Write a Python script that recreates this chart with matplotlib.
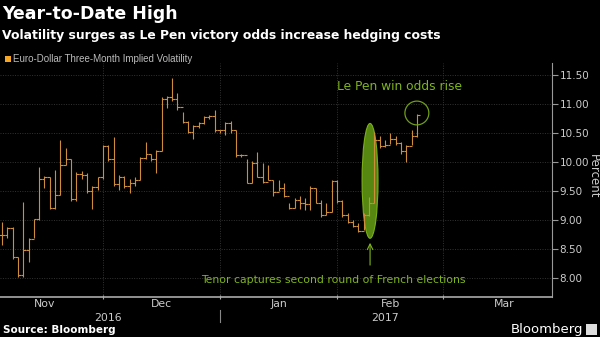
import matplotlib
matplotlib.use("Agg")
import matplotlib.pyplot as plt
import matplotlib.transforms as mtransforms
from matplotlib.patches import Ellipse, Rectangle
from matplotlib import font_manager

# Euro-dollar 3M implied vol, trading days from 2016-11-04 to 2017-02-22 (gapless axis)
highs = [8.97, 8.89, 8.89, 8.37, 9.32, 8.69, 9.03, 9.92, 9.76, 9.74,
         9.86, 10.38, 10.25, 10.05, 9.83, 9.85, 9.81, 9.59, 9.75, 10.30,
         10.29, 10.44, 9.78, 9.76, 9.72, 9.75, 10.10, 10.35, 10.15, 10.22,
         11.12, 11.15, 11.45, 11.19, 10.86, 10.72, 10.64, 10.70, 10.80, 10.82,
         10.90, 10.56, 10.70, 10.72, 10.55, 10.15, 10.05, 10.02, 10.17, 9.98,
         9.95, 9.70, 9.70, 9.65, 9.30, 9.38, 9.42, 9.38, 9.60, 9.55,
         9.35, 9.30, 9.70, 9.70, 9.35, 9.12, 9.00, 8.95, 9.12, 9.40,
         10.52, 10.45, 10.38, 10.50, 10.45, 10.35, 10.30, 10.55, 10.84]
lows = [8.57, 8.69, 8.34, 8.02, 8.02, 8.28, 8.69, 9.00, 9.55, 9.20,
        9.20, 9.43, 9.95, 9.34, 9.34, 9.72, 9.47, 9.20, 9.52, 9.72,
        10.03, 9.60, 9.52, 9.55, 9.47, 9.60, 9.70, 10.06, 10.03, 9.82,
        10.20, 10.93, 11.05, 10.90, 10.67, 10.50, 10.40, 10.60, 10.66, 10.75,
        10.52, 10.50, 10.47, 10.50, 10.09, 10.10, 9.64, 9.64, 9.74, 9.64,
        9.70, 9.42, 9.50, 9.40, 9.20, 9.22, 9.20, 9.18, 9.17, 9.30,
        9.05, 9.10, 9.14, 9.30, 9.05, 8.95, 8.88, 8.79, 8.83, 9.08,
        9.30, 10.25, 10.26, 10.32, 10.30, 10.15, 10.00, 10.30, 10.43]
closes = [8.74, 8.87, 8.37, 8.05, 8.48, 8.68, 9.03, 9.72, 9.74, 9.22,
          9.43, 9.95, 10.05, 9.36, 9.80, 9.78, 9.50, 9.57, 9.74, 10.28,
          10.05, 9.62, 9.75, 9.60, 9.65, 9.70, 10.08, 10.15, 10.05, 10.20,
          11.10, 11.12, 11.10, 10.95, 10.70, 10.52, 10.62, 10.67, 10.78, 10.80,
          10.55, 10.55, 10.68, 10.55, 10.12, 10.12, 9.65, 9.98, 9.74, 9.66,
          9.70, 9.48, 9.55, 9.42, 9.22, 9.35, 9.30, 9.28, 9.55, 9.30,
          9.10, 9.15, 9.68, 9.33, 9.10, 8.97, 8.90, 8.82, 9.10, 9.30,
          10.38, 10.28, 10.30, 10.40, 10.33, 10.20, 10.28, 10.45, 10.82]

month_starts = [19, 41, 63, 83]           # first trading day of Dec, Jan, Feb, Mar
month_centers = [8, 30, 52, 73, 94.5]
month_labels = ['Nov', 'Dec', 'Jan', 'Feb', 'Mar']
year_centers = [20, 72]
year_labels = ['2016', '2017']
yticks = [8.0, 8.5, 9.0, 9.5, 10.0, 10.5, 11.0, 11.5]

W, H = 600, 337
def fx(px): return px / W
def fy(py): return 1 - py / H

names = {f.name for f in font_manager.fontManager.ttflist}
narrow = 'Liberation Sans Narrow' if 'Liberation Sans Narrow' in names else 'Liberation Sans'

plt.rcParams['font.family'] = ['DejaVu Sans']
fig = plt.figure(figsize=(6, 3.37), dpi=100, facecolor='black')
ax = fig.add_axes([0, fy(297), fx(552), fy(63) - fy(297)], facecolor='black')

orange = '#cc8e3a'
green = '#7fb51c'
n = len(closes)
xs = list(range(n))
opens = [closes[0]] + closes[:-1]

ax.vlines(xs, lows, highs, color=orange, lw=0.8, zorder=3)
ax.hlines(opens, [x - 0.5 for x in xs], xs, color=orange, lw=0.8, zorder=3)
ax.hlines(closes, xs, [x + 0.5 for x in xs], color=orange, lw=0.8, zorder=3)

ax.set_xlim(-0.36, 103.4)
ax.set_ylim(7.678, 11.712)

# grid
for v in yticks:
    ax.axhline(v, color='#333333', lw=0.7, ls=(0, (1, 1.5)), zorder=0)
for m in month_starts:
    ax.axvline(m, color='#333333', lw=0.7, ls=(0, (1, 1.5)), zorder=0)

for s in ['top', 'left']:
    ax.spines[s].set_visible(False)
ax.spines['right'].set_color('#999999')
ax.spines['bottom'].set_color('#aaaaaa')
ax.spines['bottom'].set_linewidth(1.2)

ax.yaxis.tick_right()
ax.set_yticks(yticks)
ax.set_yticklabels(['%.2f' % v for v in yticks])
ax.tick_params(axis='y', colors='#999999', labelcolor='#cccccc', labelsize=7.5,
               length=4, pad=1.5)
ax.set_xticks(month_starts)
ax.set_xticklabels([])
ax.tick_params(axis='x', which='major', colors='#aaaaaa', length=3, direction='inout')
ax.set_xticks(month_centers, minor=True)
ax.set_xticklabels(month_labels, minor=True)
ax.tick_params(axis='x', which='minor', length=0, labelcolor='#cccccc', labelsize=7.8, pad=1.5)

fig.text(fx(593), fy(176), 'Percent', rotation=-90, color='#cccccc', fontsize=8.5,
         ha='center', va='center')

# year row
bt = mtransforms.blended_transform_factory(ax.transData, fig.transFigure)
for c, lab in zip(year_centers, year_labels):
    ax.text(c, fy(318), lab, transform=bt, color='#cccccc', fontsize=7.8,
            ha='center', va='center')
ax.plot([41, 41], [fy(310), fy(322)], transform=bt, color='#888888', lw=0.8, clip_on=False)

# annotations
ax.add_patch(Ellipse((69.2, 9.68), 3.0, 1.98, facecolor='#5c8f12', edgecolor=green,
                     lw=0.8, alpha=0.95, zorder=2))
ax.add_patch(Ellipse((78.0, 10.85), 4.5, 0.41, facecolor='none', edgecolor='#6f9e18',
                     lw=0.9, zorder=4))
ax.annotate('', xy=(69.2, 8.66), xytext=(69.2, 8.18),
            arrowprops=dict(arrowstyle='->', color=green, lw=0.8))
ax.text(63, 11.30, 'Le Pen win odds rise', color=green, fontsize=8.8, va='center', ha='left')
ax.text(62.2, 7.97, 'Tenor captures second round of French elections', color=green,
        fontsize=7.8, va='center', ha='center')

# titles
fig.text(fx(2), fy(14), 'Year-to-Date High', color='white', fontsize=12.5,
         fontweight='bold', va='center', ha='left')
fig.text(fx(2), fy(35), 'Volatility surges as Le Pen victory odds increase hedging costs',
         color='white', fontsize=8.9, fontweight='bold', va='center', ha='left')
fig.patches.append(Rectangle((fx(5), fy(62)), fx(6), 6 / H, transform=fig.transFigure,
                             facecolor='#f5a623', edgecolor='none'))
fig.text(fx(13), fy(58.5), 'Euro-Dollar Three-Month Implied Volatility', color='#bbbbbb',
         fontsize=7, va='center', ha='left', family=[narrow, 'DejaVu Sans'])

fig.text(fx(3), fy(330), 'Source: Bloomberg', color='white', fontsize=7.5,
         fontweight='bold', va='center', ha='left')
fig.text(fx(583), fy(329), 'Bloomberg', color='white', fontsize=9.5,
         va='center', ha='right')
fig.patches.append(Rectangle((fx(586), fy(335)), fx(11), 11 / H, transform=fig.transFigure,
                             facecolor='#dddddd', edgecolor='none'))

fig.savefig('out.png', dpi=100, facecolor='black')
